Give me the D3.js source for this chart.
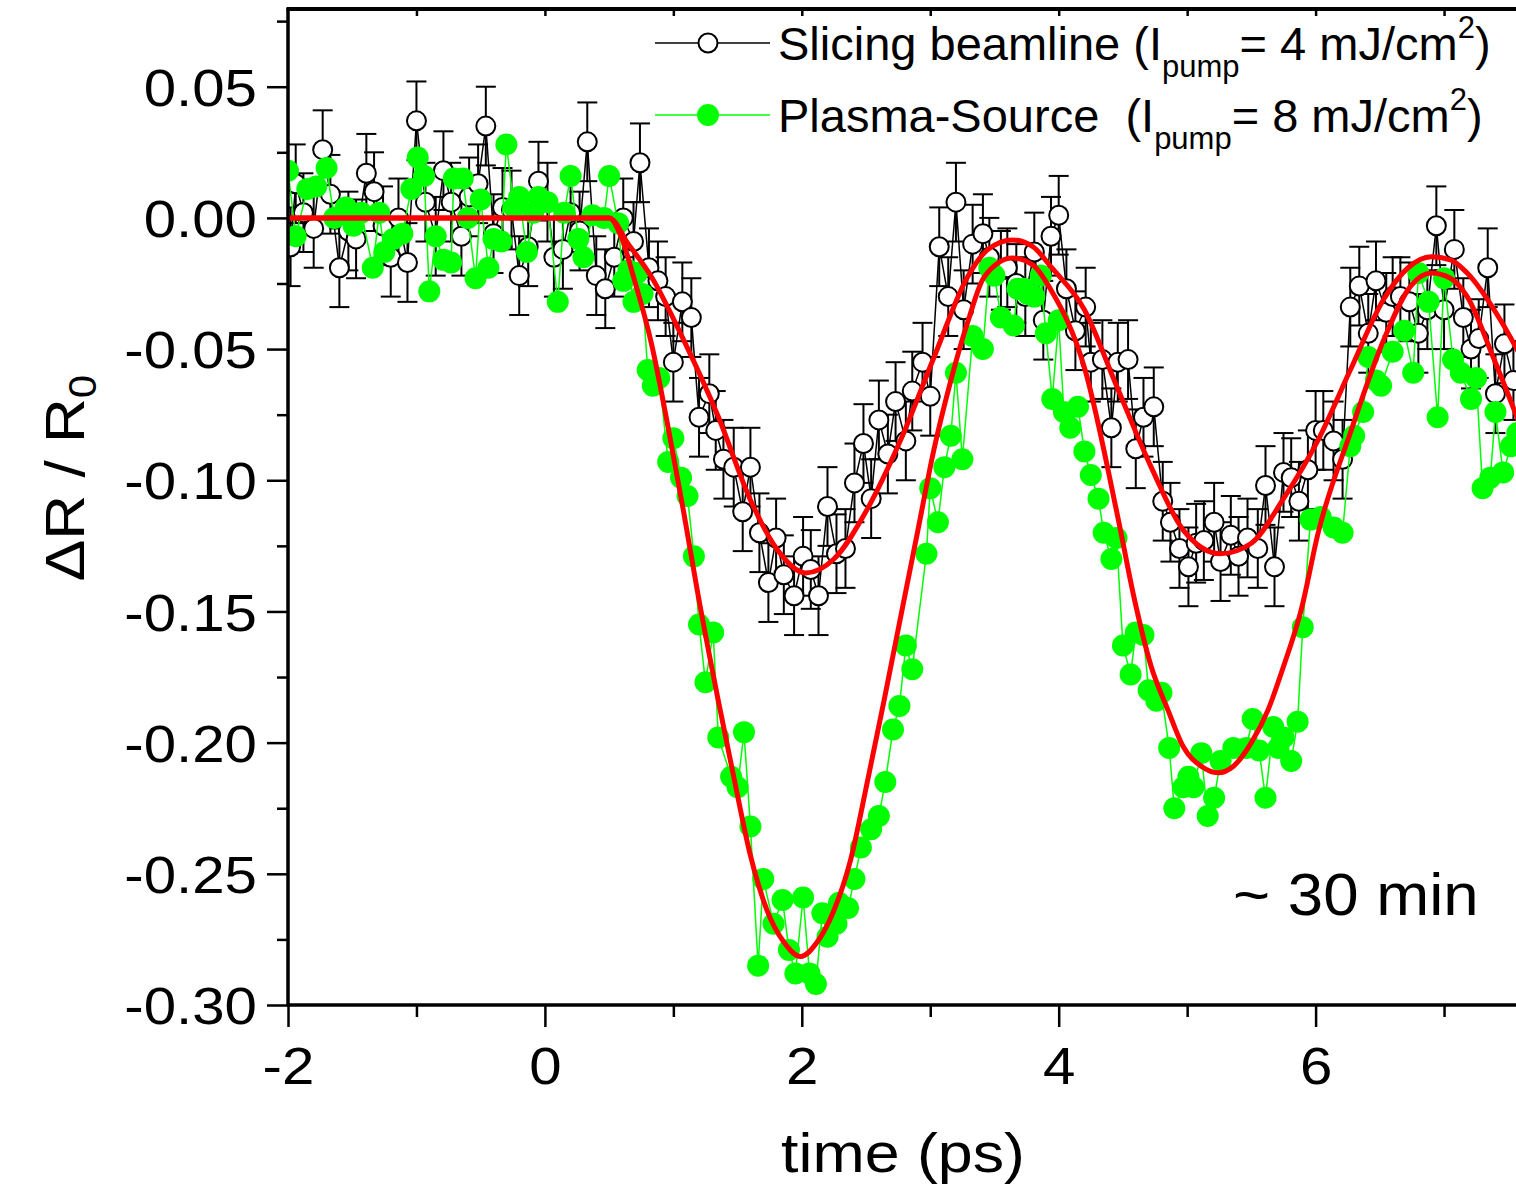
<!DOCTYPE html>
<html><head><meta charset="utf-8">
<script src="https://cdn.jsdelivr.net/npm/d3@7"></script>
<style>
body{margin:0;background:#fff}
svg{display:block}
text{font-family:"Liberation Sans",Arial,sans-serif;fill:#000}
</style>
</head><body>
<svg id="chart" width="1516" height="1186"></svg>
<script>
// ---------------- data ----------------
const slicingT = [-1.98,-1.94,-1.88,-1.80,-1.73,-1.67,-1.60,-1.53,-1.47,-1.39,-1.33,-1.26,-1.20,-1.14,-1.07,-1.00,-0.93,-0.85,-0.79,-0.73,-0.65,-0.59,-0.52,-0.46,-0.40,-0.33,-0.26,-0.20,-0.13,-0.05,0.02,0.07,0.14,0.20,0.27,0.33,0.40,0.47,0.54,0.61,0.69,0.74,0.81,0.88,0.94,1.00,1.07,1.14,1.20,1.28,1.33,1.39,1.47,1.54,1.60,1.67,1.74,1.80,1.86,1.94,2.01,2.07,2.13,2.20,2.27,2.34,2.41,2.48,2.54,2.60,2.67,2.73,2.81,2.86,2.94,3.00,3.07,3.14,3.20,3.26,3.33,3.41,3.46,3.55,3.60,3.67,3.74,3.81,3.88,3.94,4.00,4.06,4.13,4.21,4.25,4.34,4.41,4.46,4.54,4.60,4.66,4.74,4.81,4.87,4.94,5.01,5.07,5.13,5.21,5.26,5.34,5.40,5.47,5.55,5.61,5.68,5.75,5.81,5.87,5.94,6.00,6.06,6.14,6.21,6.27,6.34,6.41,6.47,6.55,6.60,6.66,6.73,6.80,6.87,6.94,7.00,7.08,7.15,7.21,7.27,7.34,7.40,7.47,7.54];
const slicingV = [-0.011,0.013,0.002,-0.004,0.026,0.009,-0.019,-0.005,-0.008,0.017,0.010,-0.003,-0.015,0.000,-0.017,0.037,0.006,-0.007,0.018,0.006,-0.007,0.008,0.013,0.035,-0.006,0.004,0.003,-0.022,-0.011,0.014,0.006,-0.015,-0.012,0.002,-0.005,0.029,-0.022,-0.027,-0.015,0.000,-0.009,0.021,-0.019,-0.024,-0.030,-0.055,-0.032,-0.038,-0.076,-0.067,-0.081,-0.092,-0.095,-0.112,-0.095,-0.120,-0.139,-0.122,-0.136,-0.144,-0.129,-0.134,-0.144,-0.110,-0.128,-0.126,-0.101,-0.086,-0.107,-0.077,-0.090,-0.070,-0.085,-0.066,-0.055,-0.068,-0.011,-0.030,0.006,-0.035,-0.010,-0.006,-0.015,-0.020,-0.019,-0.025,-0.030,-0.013,-0.039,-0.007,0.001,-0.027,-0.043,-0.034,-0.055,-0.054,-0.080,-0.055,-0.054,-0.088,-0.076,-0.072,-0.108,-0.116,-0.126,-0.133,-0.124,-0.123,-0.116,-0.131,-0.121,-0.129,-0.122,-0.126,-0.102,-0.133,-0.097,-0.099,-0.108,-0.096,-0.081,-0.081,-0.085,-0.092,-0.034,-0.026,-0.044,-0.024,-0.036,-0.030,-0.030,-0.032,-0.044,-0.035,-0.003,-0.035,-0.012,-0.038,-0.050,-0.046,-0.019,-0.067,-0.048,-0.062];
const slicingErr = 0.015;

const plasmaT = [-2.00,-1.94,-1.85,-1.78,-1.70,-1.64,-1.55,-1.49,-1.43,-1.34,-1.29,-1.25,-1.18,-1.11,-1.04,-0.99,-0.94,-0.90,-0.85,-0.79,-0.73,-0.71,-0.64,-0.60,-0.54,-0.50,-0.44,-0.40,-0.34,-0.30,-0.24,-0.20,-0.14,-0.09,-0.05,0.02,0.10,0.15,0.20,0.26,0.30,0.37,0.46,0.50,0.57,0.61,0.65,0.69,0.72,0.76,0.80,0.84,0.89,0.96,1.00,1.06,1.11,1.16,1.20,1.25,1.31,1.35,1.45,1.50,1.55,1.60,1.66,1.70,1.78,1.85,1.90,1.95,2.01,2.06,2.11,2.16,2.20,2.27,2.29,2.36,2.41,2.46,2.54,2.60,2.65,2.71,2.76,2.81,2.86,2.97,3.00,3.06,3.11,3.16,3.20,3.25,3.33,3.41,3.46,3.50,3.55,3.65,3.68,3.73,3.76,3.81,3.86,3.90,3.95,4.00,4.04,4.09,4.15,4.20,4.25,4.31,4.35,4.41,4.45,4.50,4.56,4.60,4.66,4.70,4.76,4.80,4.86,4.90,4.97,5.01,5.05,5.11,5.16,5.21,5.26,5.36,5.46,5.51,5.56,5.61,5.67,5.71,5.75,5.81,5.86,5.90,5.96,6.04,6.14,6.21,6.27,6.30,6.37,6.41,6.47,6.51,6.60,6.69,6.76,6.80,6.88,6.95,7.00,7.07,7.13,7.21,7.25,7.30,7.36,7.40,7.46,7.52,7.57];
const plasmaV = [0.018,-0.007,0.011,0.012,0.019,0.000,0.004,-0.003,0.002,-0.019,0.002,-0.013,-0.008,-0.006,0.011,0.023,0.016,-0.028,-0.007,-0.016,-0.017,0.015,0.015,0.000,-0.023,0.007,-0.019,-0.008,-0.009,0.028,0.004,0.008,-0.013,0.002,0.008,0.006,-0.032,0.002,0.016,-0.008,-0.015,0.001,0.000,0.016,-0.002,-0.024,-0.020,-0.032,-0.021,-0.029,-0.058,-0.064,-0.061,-0.093,-0.084,-0.099,-0.106,-0.129,-0.155,-0.177,-0.158,-0.198,-0.213,-0.217,-0.196,-0.232,-0.285,-0.252,-0.269,-0.260,-0.279,-0.288,-0.259,-0.288,-0.292,-0.265,-0.274,-0.269,-0.261,-0.263,-0.252,-0.240,-0.233,-0.228,-0.215,-0.195,-0.186,-0.163,-0.172,-0.128,-0.103,-0.116,-0.095,-0.083,-0.059,-0.092,-0.045,-0.050,-0.019,-0.022,-0.038,-0.041,-0.027,-0.027,-0.029,-0.030,-0.022,-0.044,-0.069,-0.039,-0.074,-0.080,-0.072,-0.089,-0.098,-0.107,-0.120,-0.130,-0.122,-0.163,-0.174,-0.158,-0.159,-0.180,-0.184,-0.181,-0.202,-0.225,-0.217,-0.213,-0.217,-0.204,-0.228,-0.221,-0.207,-0.202,-0.202,-0.191,-0.203,-0.221,-0.194,-0.202,-0.198,-0.207,-0.192,-0.156,-0.115,-0.114,-0.118,-0.120,-0.087,-0.083,-0.074,-0.053,-0.062,-0.064,-0.051,-0.043,-0.059,-0.021,-0.032,-0.076,-0.023,-0.054,-0.059,-0.069,-0.061,-0.103,-0.099,-0.074,-0.097,-0.087,-0.082];

const fitSlicingT = [-2.0,0.5,0.65,0.83,1.08,1.35,1.60,1.81,2.03,2.25,2.51,2.77,3.03,3.29,3.45,3.64,3.80,3.94,4.20,4.45,4.72,4.97,5.26,5.50,5.75,6.02,6.27,6.53,6.72,6.90,7.05,7.18,7.44,7.6];
const fitSlicingV = [0,0,-0.010,-0.0225,-0.0465,-0.0758,-0.1075,-0.1265,-0.1353,-0.130,-0.111,-0.0846,-0.053,-0.0225,-0.012,-0.0084,-0.011,-0.0187,-0.035,-0.064,-0.095,-0.119,-0.128,-0.124,-0.107,-0.0846,-0.058,-0.031,-0.019,-0.0148,-0.016,-0.021,-0.039,-0.053];
const fitPlasmaT = [-2.0,0.5,0.6,0.69,0.83,0.96,1.08,1.19,1.35,1.47,1.60,1.73,1.86,1.99,2.12,2.25,2.38,2.51,2.64,2.77,2.90,3.03,3.16,3.29,3.42,3.64,3.80,3.94,4.20,4.46,4.59,4.72,4.85,4.97,5.11,5.24,5.36,5.50,5.63,5.75,5.89,6.02,6.27,6.53,6.74,6.90,7.05,7.18,7.39,7.6];
const fitPlasmaV = [0,0,-0.008,-0.0225,-0.048,-0.080,-0.112,-0.143,-0.184,-0.213,-0.243,-0.264,-0.276,-0.2815,-0.276,-0.264,-0.2447,-0.215,-0.184,-0.152,-0.12,-0.088,-0.062,-0.040,-0.0225,-0.0153,-0.018,-0.0275,-0.057,-0.114,-0.1455,-0.171,-0.1875,-0.2016,-0.209,-0.2115,-0.209,-0.200,-0.1875,-0.171,-0.149,-0.12,-0.082,-0.0465,-0.026,-0.021,-0.023,-0.030,-0.054,-0.080];

const yMajorTicks = [-0.30,-0.25,-0.20,-0.15,-0.10,-0.05,0.00,0.05];
const yMinorTicks = [-0.275,-0.225,-0.175,-0.125,-0.075,-0.025,0.025,0.075];
const xMajorTicks = [-2,0,2,4,6];
const xMinorTicks = [-1,1,3,5,7];
const xTopTicks = [-1,0,1,2,3,4,5,6,7];

const xTitle = "time (ps)";
const annotation = "~ 30 min";

// ---------------- chart ----------------
const svg = d3.select("#chart");
const L = 288, T = 8, B = 1005, R = 1516;
const x = d3.scaleLinear().domain([-2, 7.6]).range([L, L + 9.6 * 128.45]);
const y = d3.scaleLinear().domain([-0.30, 0.08]).range([B, T]);

svg.append("defs").append("clipPath").attr("id", "plotclip")
  .append("rect").attr("x", L).attr("y", T).attr("width", R - L).attr("height", B - T);

const plot = svg.append("g").attr("clip-path", "url(#plotclip)");

const slicing = slicingT.map((t, i) => ({t, v: slicingV[i]}));
const plasma = plasmaT.map((t, i) => ({t, v: plasmaV[i]}));
const fitS = fitSlicingT.map((t, i) => ({t, v: fitSlicingV[i]}));
const fitP = fitPlasmaT.map((t, i) => ({t, v: fitPlasmaV[i]}));

const line = d3.line().x(d => x(d.t)).y(d => y(d.v));

// slicing: connecting line, error bars, open circles
plot.append("path").datum(slicing).attr("d", line)
  .attr("fill", "none").attr("stroke", "#000").attr("stroke-width", 1.5);
const eb = plot.append("g").attr("stroke", "#000").attr("stroke-width", 2);
slicing.forEach(d => {
  const cx = x(d.t), y1 = y(d.v + slicingErr), y2 = y(d.v - slicingErr);
  eb.append("line").attr("x1", cx).attr("x2", cx).attr("y1", y1).attr("y2", y2);
  eb.append("line").attr("x1", cx - 10).attr("x2", cx + 10).attr("y1", y1).attr("y2", y1);
  eb.append("line").attr("x1", cx - 10).attr("x2", cx + 10).attr("y1", y2).attr("y2", y2);
});
plot.append("g").selectAll("circle").data(slicing).join("circle")
  .attr("cx", d => x(d.t)).attr("cy", d => y(d.v)).attr("r", 9.5)
  .attr("fill", "#fff").attr("stroke", "#000").attr("stroke-width", 2);

// plasma: line + filled green circles
plot.append("path").datum(plasma).attr("d", line)
  .attr("fill", "none").attr("stroke", "#00ff00").attr("stroke-width", 1.5);
plot.append("g").selectAll("circle").data(plasma).join("circle")
  .attr("cx", d => x(d.t)).attr("cy", d => y(d.v)).attr("r", 11)
  .attr("fill", "#00ff00");

// fits
const fitLine = d3.line().x(d => x(d.t)).y(d => y(d.v)).curve(d3.curveMonotoneX);
[fitS, fitP].forEach(f => plot.append("path").datum(f).attr("d", fitLine)
  .attr("fill", "none").attr("stroke", "#ff0000").attr("stroke-width", 5));

// ---------------- axes ----------------
const fmtY = d => (d < 0 ? "-" : "") + Math.abs(d).toFixed(2);
const fmtX = d => (d < 0 ? "-" : "") + Math.abs(d);
const STRETCH = 1.12;

function styleAxis(g) {
  g.select(".domain").remove();
  g.selectAll(".tick line").attr("stroke", "#000").attr("stroke-width", 2.5);
  g.selectAll(".tick text").attr("fill", "#000");
}

svg.append("g").attr("transform", `translate(${L},0)`)
  .call(d3.axisLeft(y).tickValues(yMinorTicks).tickSize(11).tickFormat(""))
  .call(styleAxis);
svg.append("g").attr("transform", `translate(${L},0)`)
  .call(d3.axisLeft(y).tickValues(yMajorTicks).tickSize(21).tickPadding(10).tickFormat(fmtY))
  .call(styleAxis)
  .selectAll(".tick text").style("font-size", "52px").attr("dy", "0.36em")
  .attr("transform", function() {
    const xx = +this.getAttribute("x");
    return `translate(${xx},0) scale(${STRETCH},1) translate(${-xx},0)`;
  });

svg.append("g").attr("transform", `translate(0,${B})`)
  .call(d3.axisBottom(x).tickValues(xMinorTicks).tickSize(12).tickFormat(""))
  .call(styleAxis);
svg.append("g").attr("transform", `translate(0,${B})`)
  .call(d3.axisBottom(x).tickValues(xMajorTicks).tickSize(22).tickPadding(20).tickFormat(fmtX))
  .call(styleAxis)
  .selectAll(".tick text").style("font-size", "52px").attr("transform", `scale(${STRETCH},1)`);

svg.append("g").attr("transform", `translate(0,${T + 2})`)
  .call(d3.axisBottom(x).tickValues(xTopTicks).tickSize(6).tickFormat(""))
  .call(styleAxis);

// frame lines
svg.append("line").attr("x1", L).attr("x2", L).attr("y1", T).attr("y2", B + 1.5)
  .attr("stroke", "#000").attr("stroke-width", 3.5);
svg.append("line").attr("x1", L).attr("x2", R).attr("y1", B).attr("y2", B)
  .attr("stroke", "#000").attr("stroke-width", 3.5);
svg.append("line").attr("x1", L - 1.5).attr("x2", R).attr("y1", T + 1).attr("y2", T + 1)
  .attr("stroke", "#000").attr("stroke-width", 4);

// axis titles
svg.append("text").attr("transform", `translate(903,1172) scale(${STRETCH},1)`)
  .attr("text-anchor", "middle").style("font-size", "56px").text(xTitle);
const yt = svg.append("text").attr("transform", `translate(84,478) rotate(-90) scale(1.11,1)`)
  .attr("text-anchor", "middle").style("font-size", "56px");
yt.append("tspan").text("\u0394R / R");
yt.append("tspan").attr("dy", 12).style("font-size", "38px").text("0");

// annotation
svg.append("text").attr("transform", "translate(1233,915) scale(1.06,1)")
  .style("font-size", "60px").text(annotation);

// ---------------- legend ----------------
const legendRows = [
  {cy: 43, base: 60, color: "#000", open: true, name: "Slicing beamline (I", val: "= 4 mJ/cm"},
  {cy: 115, base: 132, color: "#00ff00", open: false, name: "Plasma-Source  (I", val: "= 8 mJ/cm"}
];
const lg = svg.append("g");
legendRows.forEach(r => {
  lg.append("line").attr("x1", 655).attr("x2", 770).attr("y1", r.cy).attr("y2", r.cy)
    .attr("stroke", r.color).attr("stroke-width", 1.5);
  lg.append("circle").attr("cx", 708).attr("cy", r.cy).attr("r", r.open ? 9.5 : 11)
    .attr("fill", r.open ? "#fff" : r.color).attr("stroke", r.open ? "#000" : "none").attr("stroke-width", 2);
  const t = lg.append("text").attr("x", 778).attr("y", r.base).style("font-size", "47px")
    .style("white-space", "pre");
  t.append("tspan").text(r.name);
  t.append("tspan").attr("dy", 17).style("font-size", "31px").text("pump");
  t.append("tspan").attr("dy", -17).text(r.val);
  t.append("tspan").attr("dy", -22).style("font-size", "31px").text("2");
  t.append("tspan").attr("dy", 22).text(")");
});
</script>
</body></html>
